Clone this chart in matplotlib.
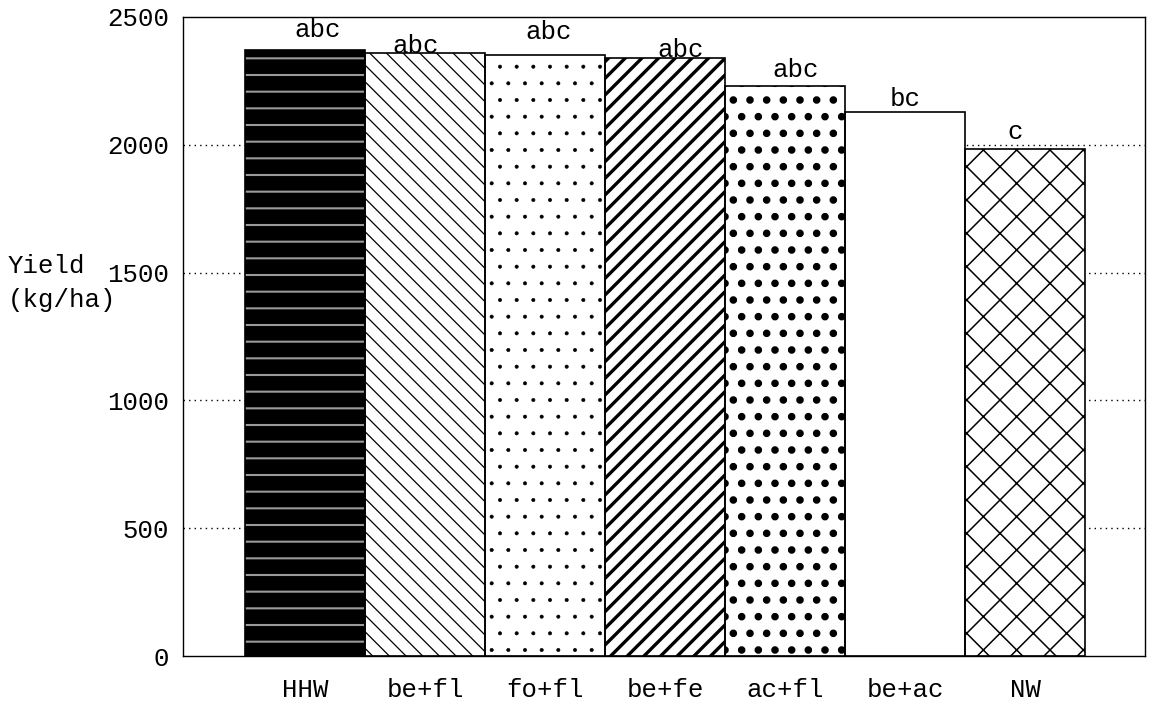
import numpy as np
import matplotlib
matplotlib.use("Agg")
import matplotlib.pyplot as plt

treatments = ["HHW", "be+fl", "fo+fl", "be+fe", "ac+fl", "be+ac", "NW"]
yield_kg_ha = [2370, 2360, 2350, 2340, 2230, 2130, 1985]
letters = ["abc", "abc", "abc", "abc", "abc", "bc", "c"]
y_ticks = [0, 500, 1000, 1500, 2000, 2500]

# look of each bar: (face, hatch colour, hatch, hatch linewidth)
styles = [
    ("black", "#9a9a9a", "-", 1.5),
    ("white", "black", "\\\\", 0.9),
    ("white", "black", ".", 0.4),
    ("white", "black", "//", 2.4),
    ("white", "black", ".", 3.0),
    ("white", "black", "", 1.0),
    ("white", "black", "x", 1.1),
]
# small nudges for the letter labels (x in bar units, y in kg/ha)
label_dx = [0.10, -0.08, 0.03, 0.13, 0.09, 0.0, -0.08]
label_dy = [78, 27, 90, 31, 62, 51, 66]

plt.rcParams["font.family"] = ["Liberation Mono", "DejaVu Sans Mono"]
fs = 18.5

fig = plt.figure(figsize=(11.54, 7.05), dpi=100)
ax = fig.add_axes([0.1586, 0.0695, 0.8336, 0.9064])

x = np.arange(len(treatments))

for yv in y_ticks[1:-1]:
    ax.axhline(yv, color="black", linestyle=(0, (1, 3)), lw=1.0, zorder=1)

for i, (face, hcol, hatch, hlw) in enumerate(styles):
    with plt.rc_context({"hatch.linewidth": hlw}):
        ax.bar(x[i], yield_kg_ha[i], width=1.0, color=face, edgecolor=hcol,
               hatch=hatch, linewidth=0, zorder=2)
    ax.bar(x[i], yield_kg_ha[i], width=1.0, fill=False, edgecolor="black",
           linewidth=1.2, zorder=3)
    ax.text(x[i] + label_dx[i], yield_kg_ha[i] + label_dy[i], letters[i],
            ha="center", va="center", fontsize=fs, zorder=4)

ax.set_xlim(-1.02, 7.0)
ax.set_ylim(0, 2500)
ax.set_yticks(y_ticks)
ax.set_yticklabels([str(v) for v in y_ticks], fontsize=fs)
ax.set_xticks(x)
ax.set_xticklabels(treatments, fontsize=fs)
ax.tick_params(axis="y", length=0, pad=10)
ax.tick_params(axis="x", length=0, pad=16)
for s in ax.spines.values():
    s.set_linewidth(1.0)
    s.set_color("black")

# y label sits left of the tick labels, on two lines
fig.text(8 / 1154, 1 - 266 / 705, "Yield", ha="left", va="center", fontsize=fs)
fig.text(8 / 1154, 1 - 300 / 705, "(kg/ha)", ha="left", va="center", fontsize=fs)

fig.savefig("out.png", dpi=100)
